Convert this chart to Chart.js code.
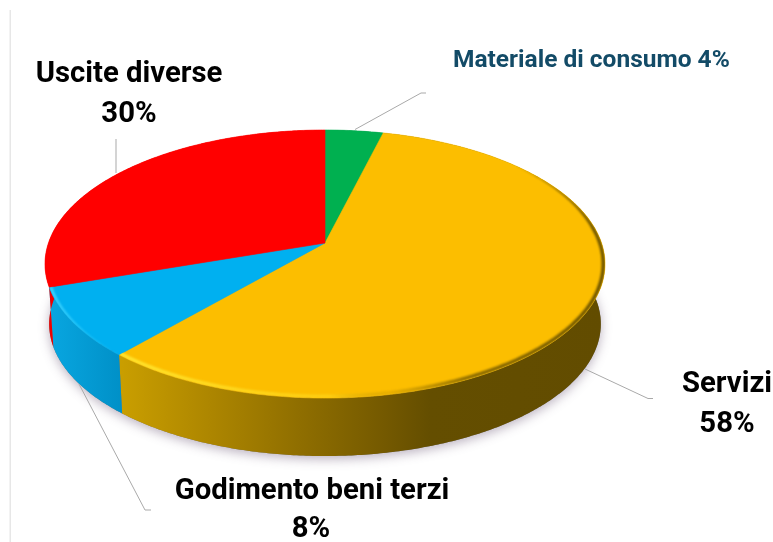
<!DOCTYPE html>
<html>
<head>
<meta charset="utf-8">
<title>Uscite</title>
<script src="https://cdn.jsdelivr.net/npm/chart.js@4"></script>
<style>
    html, body { margin: 0; padding: 0; background: #fff; }
    canvas { display: block; }
</style>
</head>
<body>
<canvas id="pie-chart" width="773" height="542"></canvas>
<script>
// clockwise from 12 o'clock, percent labels are the rounded values
const categories = ['Materiale di consumo', 'Servizi', 'Godimento beni terzi', 'Uscite diverse'];
const values = [3.9, 57.5, 8.4, 30.2];
const sliceColors = ['#00b050', '#fcbe00', '#00b0f0', '#ff0000'];

// fake perspective of the disc, all relative to the pie radius
const FLAT_X = 1.138, FLAT_Y = 0.538, TILT = 0.157;
const DEPTH = 0.248, BOTTOM_SCALE = 0.985;

function project(el, angle, isBottom) {
    const s = isBottom ? BOTTOM_SCALE : 1;
    const u = Math.cos(angle), v = Math.sin(angle);
    const d = 1 - v * TILT;
    return {
        x: el.x + u * el.outerRadius * FLAT_X * s / d,
        y: el.y + (isBottom ? DEPTH * el.outerRadius : 0) + v * el.outerRadius * FLAT_Y * s / d
    };
}

function arcAngles(el, fromAngle) {
    const start = Math.max(el.startAngle, fromAngle === undefined ? el.startAngle : fromAngle);
    const steps = Math.ceil((el.endAngle - start) / 0.01);
    const angles = [];
    for (let i = 0; i <= steps; i++) {
        angles.push(start + (el.endAngle - start) * i / steps);
    }
    return angles;
}

function arcPoints(el, isBottom) {
    return arcAngles(el).map(a => project(el, a, isBottom));
}

function tracePoints(ctx, pts) {
    pts.forEach((p, i) => i ? ctx.lineTo(p.x, p.y) : ctx.moveTo(p.x, p.y));
}

function wedgePath(ctx, el) {
    ctx.beginPath();
    ctx.moveTo(el.x, el.y);
    arcPoints(el, false).forEach(p => ctx.lineTo(p.x, p.y));
    ctx.closePath();
}

// band just inside the rim, tapering in from its starting angle
function rimBand(el, fromAngle, width) {
    const angles = arcAngles(el, fromAngle);
    const outer = angles.map(a => project(el, a, false));
    const inner = angles.map((a, i) => {
        const w = width * Math.min(1, (a - angles[0]) / 0.6);
        return { x: outer[i].x - Math.cos(a) * w, y: outer[i].y - Math.sin(a) * w };
    });
    return outer.concat(inner.reverse());
}

function hGradient(ctx, stops) {
    const g = ctx.createLinearGradient(45, 0, 606, 0);
    stops.forEach(s => g.addColorStop((s[0] - 45) / 561, s[1]));
    return g;
}

const pie3d = {
    id: 'pie3d',
    beforeDraw(chart) {
        const ctx = chart.ctx;
        ctx.save();
        ctx.fillStyle = '#e7e7e7';
        ctx.fillRect(9.5, 10, 1.5, 532);
        ctx.restore();
    },
    beforeDatasetsDraw(chart) {
        const ctx = chart.ctx;
        const arcs = chart.getDatasetMeta(0).data;
        const wallFills = [
            '#008a3e',
            hGradient(ctx, [[122, '#c99e00'], [210, '#ad8600'], [300, '#8f6e00'], [385, '#745900'], [430, '#644e00'], [606, '#624c00']]),
            hGradient(ctx, [[50, '#08a6e0'], [125, '#008fc6']]),
            '#f00000'
        ];
        const rimFills = [
            null,
            hGradient(ctx, [[120, 'rgba(255,232,50,0.95)'], [330, 'rgba(255,225,40,0.45)'], [390, 'rgba(120,92,0,0.15)'], [470, 'rgba(100,78,0,0.75)'], [606, 'rgba(90,70,0,0.9)']]),
            hGradient(ctx, [[50, 'rgba(70,215,255,0.95)'], [125, 'rgba(40,205,255,0.9)']]),
            null
        ];

        ctx.save();
        // soft shadow on the page under the disc
        ctx.save();
        ctx.shadowColor = 'rgba(105,85,115,0.45)';
        ctx.shadowBlur = 11;
        ctx.shadowOffsetY = 3;
        ctx.fillStyle = '#777';
        ctx.beginPath();
        arcs.forEach(el => arcPoints(el, true).forEach(p => ctx.lineTo(p.x, p.y)));
        ctx.closePath();
        ctx.fill();
        ctx.restore();

        // side walls
        arcs.forEach((el, i) => {
            ctx.beginPath();
            tracePoints(ctx, arcPoints(el, false).concat(arcPoints(el, true).reverse()));
            ctx.closePath();
            ctx.fillStyle = wallFills[i];
            ctx.fill();
        });

        // top faces
        arcs.forEach((el, i) => {
            wedgePath(ctx, el);
            ctx.fillStyle = sliceColors[i];
            ctx.strokeStyle = sliceColors[i];
            ctx.lineWidth = 0.6;
            ctx.fill();
            ctx.stroke();
        });

        // bevel along the rim, kept inside the face
        arcs.forEach((el, i) => {
            if (!rimFills[i]) return;
            ctx.save();
            wedgePath(ctx, el);
            ctx.clip();
            ctx.filter = 'blur(1.2px)';
            ctx.beginPath();
            tracePoints(ctx, rimBand(el, -0.7, 3.5));
            ctx.closePath();
            ctx.fillStyle = rimFills[i];
            ctx.fill();
            ctx.restore();
        });
        ctx.restore();
        return false;
    },
    afterDraw(chart) {
        const ctx = chart.ctx;
        // leader lines
        const leaders = [
            [[355, 129.5], [421, 93], [426, 93]],
            [[116, 139], [116, 173]],
            [[79, 384], [145, 510], [151, 510]],
            [[585, 369], [648, 398.5], [653, 398.5]]
        ];
        ctx.save();
        ctx.strokeStyle = '#a9a9a9';
        ctx.lineWidth = 1;
        leaders.forEach(line => {
            ctx.beginPath();
            line.forEach((p, i) => i ? ctx.lineTo(p[0], p[1]) : ctx.moveTo(p[0], p[1]));
            ctx.stroke();
        });

        // labels
        const pct = values.map(v => Math.round(v) + '%');
        ctx.textBaseline = 'alphabetic';
        ctx.textAlign = 'left';
        ctx.fillStyle = '#134b67';
        ctx.font = 'bold 24.5px Roboto';
        ctx.fillText(categories[0] + ' ' + pct[0], 453, 67);

        ctx.textAlign = 'center';
        ctx.fillStyle = '#000';
        ctx.font = 'bold 29.3px Roboto';
        ctx.fillText(categories[3], 129, 82);
        ctx.fillText(pct[3], 129, 122);
        ctx.fillText(categories[1], 727, 392);
        ctx.fillText(pct[1], 727, 432);
        ctx.fillText(categories[2], 312, 499);
        ctx.fillText(pct[2], 311, 537);
        ctx.restore();
    }
};

const pieChart = new Chart(document.getElementById('pie-chart').getContext('2d'), {
    type: 'pie',
    data: {
        labels: categories,
        datasets: [{ data: values, backgroundColor: sliceColors, borderWidth: 0 }]
    },
    options: {
        responsive: false,
        animation: false,
        layout: { padding: { right: 123, bottom: 56 } },
        plugins: { legend: { display: false }, tooltip: { enabled: false } }
    },
    plugins: [pie3d]
});
</script>
</body>
</html>
